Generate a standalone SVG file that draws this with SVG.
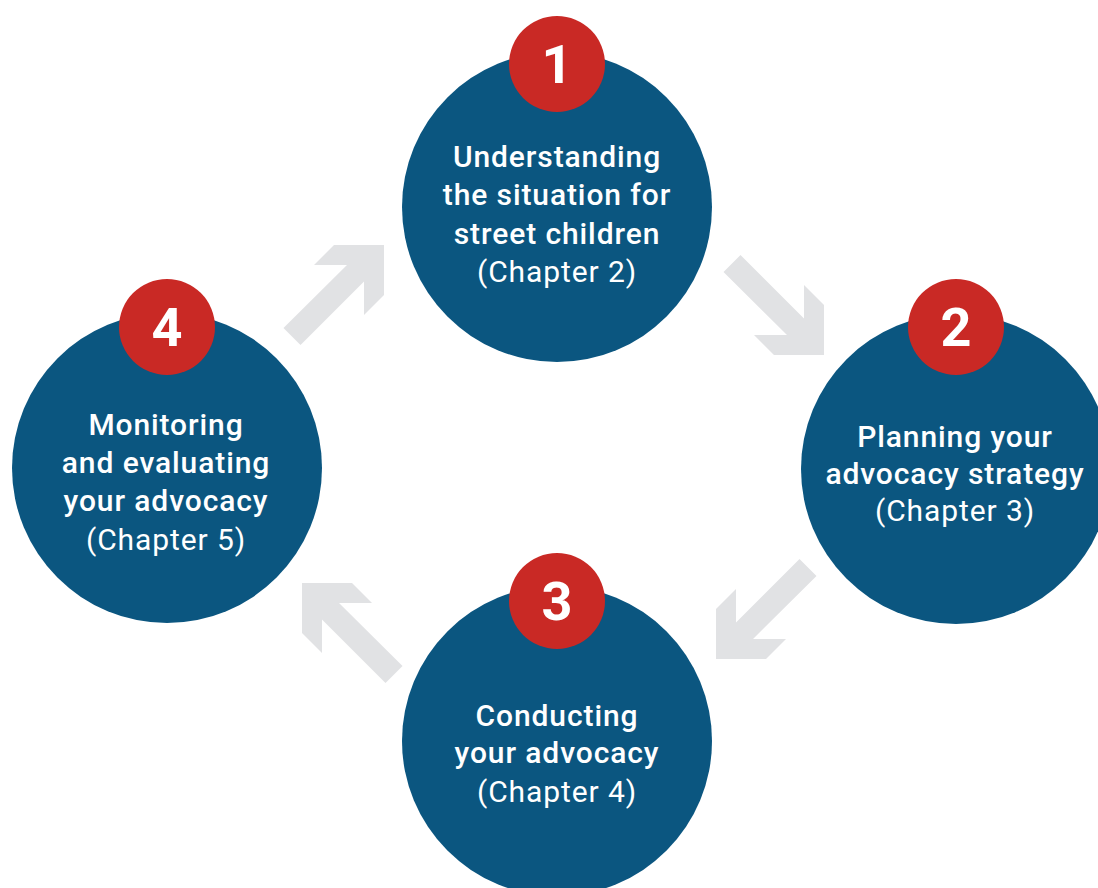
<svg xmlns="http://www.w3.org/2000/svg" width="1098" height="888" viewBox="0 0 1098 888">
<defs>
<style>
.blue{fill:#0B5680}
.red{fill:#C92925}
.arr{fill:#E1E2E4}
.t{font-family:Roboto,"Liberation Sans",sans-serif;font-size:30px;letter-spacing:0.9px;fill:#FFFFFF;text-anchor:middle}
.h{font-weight:500}
.c{font-weight:400}
.n{font-family:Roboto,"Liberation Sans",sans-serif;font-size:54px;font-weight:700;fill:#FFFFFF;text-anchor:middle}
</style>
<path id="arrow" d="M0,0 V-50 L-20,-70 V-36.5 L-83.5,-100 L-100.5,-83 L-37,-20 H-70 L-50,0 Z"/>
</defs>
<rect width="1098" height="888" fill="#FFFFFF"/>
<g id="connectors" class="arr">
<use href="#arrow" transform="translate(824,355)"/>
<use href="#arrow" transform="translate(716,659) scale(-1,1)"/>
<use href="#arrow" transform="translate(302,583) scale(-1,-1)"/>
<use href="#arrow" transform="translate(384,245) scale(1,-1)"/>
</g>
<g id="node1">
<circle class="blue" cx="557" cy="207" r="155"/>
<circle class="red" cx="557" cy="64" r="48"/>
<text class="n" x="557" y="83">1</text>
<text class="t h" x="557" y="167">Understanding</text>
<text class="t h" x="557" y="205">the situation for</text>
<text class="t h" x="557" y="243.5">street children</text>
<text class="t c" x="557" y="282">(Chapter 2)</text>
</g>
<g id="node2">
<circle class="blue" cx="956" cy="469" r="155"/>
<circle class="red" cx="956" cy="327" r="48"/>
<text class="n" x="956" y="346">2</text>
<text class="t h" x="955" y="446.5">Planning your</text>
<text class="t h" x="955" y="483.5">advocacy strategy</text>
<text class="t c" x="955" y="521">(Chapter 3)</text>
</g>
<g id="node3">
<circle class="blue" cx="557" cy="741" r="155"/>
<circle class="red" cx="557" cy="601" r="48"/>
<text class="n" x="557" y="619.5">3</text>
<text class="t h" x="557" y="725.5">Conducting</text>
<text class="t h" x="557" y="763">your advocacy</text>
<text class="t c" x="557" y="802">(Chapter 4)</text>
</g>
<g id="node4">
<circle class="blue" cx="167" cy="468" r="155"/>
<circle class="red" cx="167" cy="327" r="48"/>
<text class="n" x="167" y="346">4</text>
<text class="t h" x="166" y="434.5">Monitoring</text>
<text class="t h" x="166" y="473">and evaluating</text>
<text class="t h" x="166" y="511">your advocacy</text>
<text class="t c" x="166" y="550">(Chapter 5)</text>
</g>
</svg>
